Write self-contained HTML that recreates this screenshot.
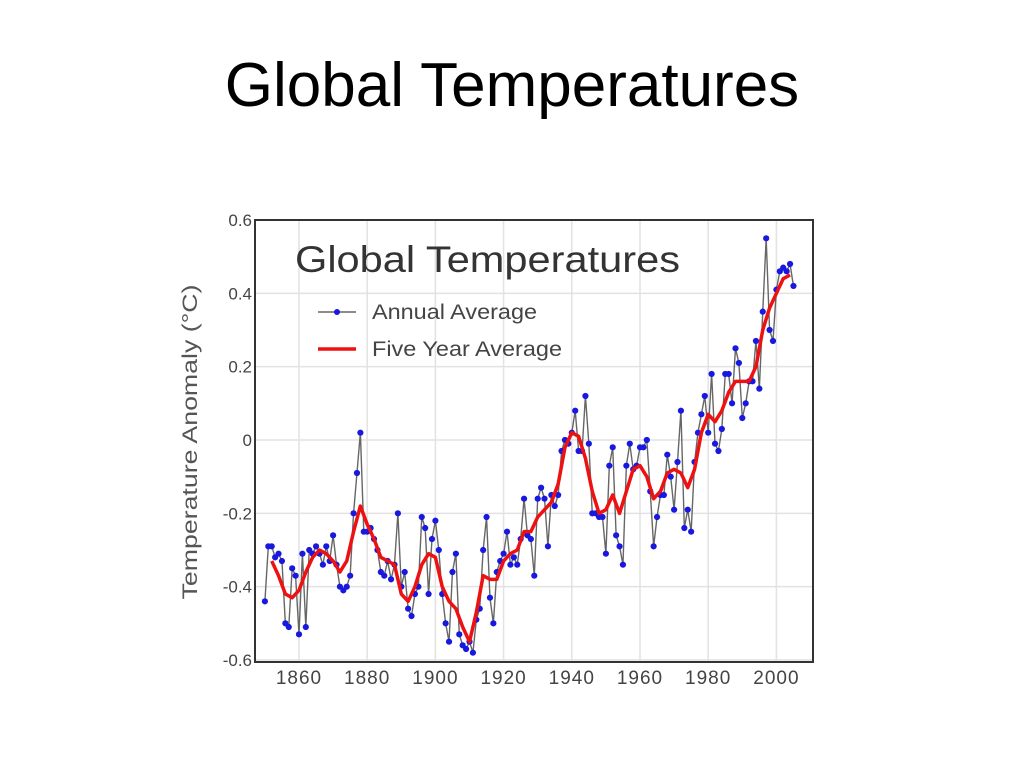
<!DOCTYPE html>
<html><head><meta charset="utf-8"><style>
body{margin:0;width:1024px;height:768px;background:#fff;overflow:hidden;font-family:"Liberation Sans",sans-serif}
</style></head><body>
<div style="position:absolute;left:0;width:1024px;top:50px;text-align:center;font-size:62px;color:#000">Global Temperatures</div>
<svg id="chart" width="1024" height="768" style="position:absolute;left:0;top:0" font-family="Liberation Sans, sans-serif"></svg>
<script>
const annualStart = 1850;
const annualValues = [-0.44,-0.29,-0.29,-0.32,-0.31,-0.33,-0.50,-0.51,-0.35,-0.37,-0.53,-0.31,-0.51,-0.30,-0.31,-0.29,-0.31,-0.34,-0.29,-0.33,-0.26,-0.34,-0.40,-0.41,-0.40,-0.37,-0.20,-0.09,0.02,-0.25,-0.25,-0.24,-0.27,-0.30,-0.36,-0.37,-0.33,-0.38,-0.34,-0.20,-0.40,-0.36,-0.46,-0.48,-0.42,-0.40,-0.21,-0.24,-0.42,-0.27,-0.22,-0.30,-0.42,-0.50,-0.55,-0.36,-0.31,-0.53,-0.56,-0.57,-0.55,-0.58,-0.49,-0.46,-0.30,-0.21,-0.43,-0.50,-0.36,-0.33,-0.31,-0.25,-0.34,-0.32,-0.34,-0.27,-0.16,-0.26,-0.27,-0.37,-0.16,-0.13,-0.16,-0.29,-0.15,-0.18,-0.15,-0.03,0.00,-0.01,0.02,0.08,-0.03,-0.03,0.12,-0.01,-0.20,-0.20,-0.21,-0.21,-0.31,-0.07,-0.02,-0.26,-0.29,-0.34,-0.07,-0.01,-0.08,-0.07,-0.02,-0.02,0.00,-0.14,-0.29,-0.21,-0.15,-0.15,-0.04,-0.10,-0.19,-0.06,0.08,-0.24,-0.19,-0.25,-0.06,0.02,0.07,0.12,0.02,0.18,-0.01,-0.03,0.03,0.18,0.18,0.10,0.25,0.21,0.06,0.10,0.16,0.16,0.27,0.14,0.35,0.55,0.30,0.27,0.41,0.46,0.47,0.46,0.48,0.42];
const smoothYears = [1852,1854,1856,1858,1860,1862,1864,1866,1868,1870,1872,1874,1876,1878,1880,1882,1884,1886,1888,1890,1892,1894,1896,1898,1900,1902,1904,1906,1908,1910,1912,1914,1916,1918,1920,1922,1924,1926,1928,1930,1932,1934,1936,1938,1940,1942,1944,1946,1948,1950,1952,1954,1956,1958,1960,1962,1964,1966,1968,1970,1972,1974,1976,1978,1980,1982,1984,1986,1988,1990,1992,1994,1996,1998,2000,2002,2004];
const smoothValues = [-0.33,-0.37,-0.42,-0.43,-0.41,-0.36,-0.32,-0.30,-0.31,-0.33,-0.36,-0.33,-0.25,-0.18,-0.23,-0.27,-0.32,-0.33,-0.34,-0.42,-0.44,-0.40,-0.34,-0.31,-0.32,-0.40,-0.44,-0.46,-0.51,-0.55,-0.47,-0.37,-0.38,-0.38,-0.33,-0.31,-0.30,-0.25,-0.25,-0.21,-0.19,-0.17,-0.12,-0.02,0.02,0.01,-0.05,-0.14,-0.20,-0.19,-0.15,-0.20,-0.14,-0.08,-0.07,-0.10,-0.16,-0.14,-0.09,-0.08,-0.09,-0.13,-0.08,0.02,0.07,0.05,0.08,0.13,0.16,0.16,0.16,0.20,0.30,0.36,0.40,0.44,0.45];
const xTicks = [1860,1880,1900,1920,1940,1960,1980,2000];
const yTicks = [0.6,0.4,0.2,0,-0.2,-0.4,-0.6];
const yTickLabels = ["0.6","0.4","0.2","0","-0.2","-0.4","-0.6"];

const NS="http://www.w3.org/2000/svg", svg=document.getElementById('chart');
const L=255,R=813,T=220,B=662;
const xs=y=>299+(y-1860)*3.41;
const ys=v=>440-v*366.7;
function mk(t,a,p){const e=document.createElementNS(NS,t);for(const k in a)e.setAttribute(k,a[k]);(p||svg).appendChild(e);return e;}
mk('rect',{x:L,y:T,width:R-L,height:B-T,fill:'#fff',stroke:'none'});
xTicks.forEach((t,i)=>{
 const g=mk('line',{x1:xs(t),x2:xs(t),y1:T,y2:B,stroke:'#e2e2e2','stroke-width':1.5});
 
 
 const tx=mk('text',{x:xs(t),y:684,'text-anchor':'middle','font-size':19,fill:'#444','letter-spacing':1});tx.textContent=t;
 
 
});
yTicks.forEach((t,i)=>{
 const g=mk('line',{x1:L,x2:R,y1:ys(t),y2:ys(t),stroke:'#e2e2e2','stroke-width':1.5});
 
 
 const tx=mk('text',{x:252,y:ys(t)+6,'text-anchor':'end','font-size':17,fill:'#444'});tx.textContent=yTickLabels[i];
 
 
});
let pts=annualValues.map((v,i)=>xs(annualStart+i)+','+ys(v)).join(' ');
const al=mk('polyline',{points:pts,fill:'none',stroke:'#666','stroke-width':1.4});


annualValues.forEach((v,i)=>{
 const c=mk('circle',{cx:xs(annualStart+i),cy:ys(v),r:3.1,fill:'#1818e0'});
 
 
});
const sl=mk('polyline',{points:smoothValues.map((v,i)=>xs(smoothYears[i])+','+ys(v)).join(' '),fill:'none',stroke:'#ee1111','stroke-width':3.5,'stroke-linejoin':'round'});


const fr=mk('rect',{x:L,y:T,width:R-L,height:B-T,fill:'none',stroke:'#333','stroke-width':2});


const it=mk('text',{x:295,y:272,'font-size':37,fill:'#333',textLength:385,lengthAdjust:'spacingAndGlyphs'});it.textContent='Global Temperatures';


const l1=mk('line',{x1:318,x2:356,y1:312,y2:312,stroke:'#666','stroke-width':1.4});


const c1=mk('circle',{cx:337,cy:312,r:3,fill:'#1818e0'});


const t1=mk('text',{x:372,y:319,'font-size':21,fill:'#444',textLength:165,lengthAdjust:'spacingAndGlyphs'});t1.textContent='Annual Average';


const l2=mk('line',{x1:318,x2:356,y1:349,y2:349,stroke:'#ee1111','stroke-width':3.5});


const t2=mk('text',{x:372,y:356,'font-size':21,fill:'#444',textLength:190,lengthAdjust:'spacingAndGlyphs'});t2.textContent='Five Year Average';


const yt=mk('text',{x:0,y:0,'text-anchor':'middle','font-size':21,fill:'#555',textLength:315,lengthAdjust:'spacingAndGlyphs',transform:'translate(197,442) rotate(-90)'});yt.textContent='Temperature Anomaly (°C)';


</script>
</body></html>
